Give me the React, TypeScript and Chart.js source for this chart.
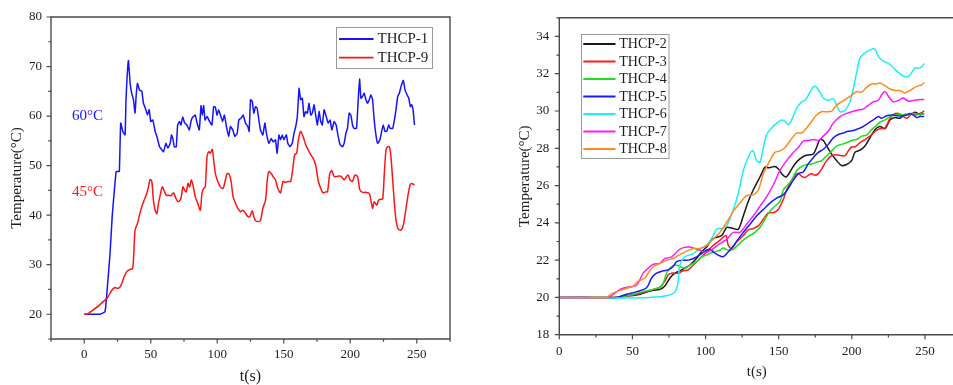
import React, { useEffect, useRef } from "react";
import { Chart, registerables } from "chart.js";

Chart.register(...registerables);

const SERIF = "'Liberation Serif', 'Times New Roman', Times, serif";
const TEXT = "#1e1e1e";
const AXIS = "#4a4a4a";

// ---------------- Left chart data ----------------
const t1 = [
  0, 12, 15.6, 17, 19.4, 21, 22, 23, 24, 25.6,
  26.4, 27.4, 29, 30.7, 31.4, 33.2, 34.5, 35.7, 37, 38.2,
  39, 40, 41.5, 43.3, 44.5, 46.3, 47.5, 48.8, 50, 51.6,
  53.3, 54.6, 56.6, 58.3, 59.6, 61.4, 62.9, 64.6, 65.6, 66.6,
  67.7, 69.2, 70.2, 71.7, 72.7, 74, 75.5, 77.2, 79, 80.5,
  81.7, 83.5, 84.8, 86.5, 87.8, 88.8, 89.8, 90.8, 92.3, 94.3,
  96, 97.3, 98.6, 99.8, 101, 102.4, 104, 105.4, 106.9, 108.6,
  109.9, 111.7, 113.2, 115, 116.2, 118, 119.5, 121.2, 123, 124,
  125, 126.3, 127.5, 128.8, 130, 131.3, 132.5, 134.3, 135.8, 137,
  138.8, 140.6, 142, 143.8, 145, 146.4, 147.6, 148.9, 150, 152,
  153, 154.7, 156.4, 157.7, 159, 160.2, 161.5, 162.7, 164, 165.2,
  166.5, 167.8, 169, 170.3, 171.5, 172.8, 174, 175.3, 176.6, 177.8,
  179, 180.3, 181.6, 183.4, 184.9, 186.1, 187.9, 189.4, 190.9, 192.4,
  194.2, 195.4, 196.7, 197.9, 199.2, 200.5, 201.7, 203, 204.7, 206,
  207, 208, 209.3, 210.5, 211.8, 213, 214.3, 215.5, 216.8, 218,
  219.3, 220.6, 222.3, 223.6, 224.8, 226.1, 227.4, 228.9, 230.1, 231.9,
  233.2, 234.4, 235.7, 236.9, 238.2, 239.9, 241.2, 242.7, 244, 245.2,
  246.2, 247.2, 248.3,
];
const temp1 = [
  20, 20, 20.5, 24.2, 32.3, 39.7, 43, 46.1, 48.8, 48.8,
  48.8, 58.6, 56.9, 56.2, 63.3, 71.2, 66.6, 64.6, 63.3, 60.6,
  64, 66.6, 65.3, 65, 62.6, 61.3, 60.2, 61.3, 58.9, 59.2,
  56.9, 55.9, 53.8, 53.2, 52.8, 54.5, 53.5, 54.5, 56.2, 55.5,
  53.8, 53.8, 58.2, 58.9, 58.2, 59.8, 58.6, 58.2, 57.2, 59.2,
  59.8, 60.2, 58.6, 57.2, 62.1, 60.2, 62.1, 59.2, 59.9, 58.9,
  58.2, 61.9, 61.8, 60.2, 61.3, 60.2, 58.9, 60.2, 57.9, 55.9,
  57.9, 57.2, 55.9, 56.5, 59.2, 59.6, 60.2, 58.6, 57.9, 56.9,
  63.3, 63, 60.6, 61.9, 61.6, 59.2, 57.2, 56.2, 58.6, 56.5,
  54.5, 55.5, 54.8, 55.2, 52.5, 56.2, 55.2, 56.2, 55.2, 56.2,
  54.5, 53.8, 54.5, 56.5, 57.9, 59.9, 65.6, 63.3, 63.6, 59.9,
  60.9, 60.6, 62.6, 60.2, 60.6, 62.3, 60.2, 58.2, 60.9, 58.9,
  58.2, 61.3, 60.2, 58.6, 59.2, 57.2, 58.9, 58.2, 55.9, 54.2,
  53.8, 54.5, 56.5, 57.5, 60.6, 60.2, 58.2, 57.5, 57.5, 63.3,
  67.5, 63.6, 64, 64.6, 63.3, 62.6, 63.3, 64.3, 63.3, 59.2,
  56.2, 54.5, 55.2, 56.9, 58.2, 56.9, 56.9, 58.2, 57.5, 57.5,
  59.2, 61.3, 64, 64.6, 66, 67.2, 65.3, 64.3, 63.6, 61.9,
  62.3, 61.3, 58.2,
];
const t9 = [
  0, 3, 17, 20.6, 23.1, 24.9, 26.9, 28.2, 29.9, 31.9,
  34, 36.2, 37, 38.2, 40, 41.5, 43.3, 45, 47, 48.3,
  49.5, 50.8, 52, 53.3, 54.6, 55.8, 57.1, 58.6, 60.1, 61.6,
  63.4, 65.1, 67.2, 68.9, 70.9, 72.7, 74.2, 75.5, 76.7, 78,
  79.2, 80.5, 81.7, 83.5, 85.3, 87.3, 88.5, 89.8, 91, 92.3,
  93.6, 94.8, 96.3, 97.3, 98.6, 100.4, 102.4, 104.4, 106.1, 107.4,
  108.9, 110.4, 111.9, 113.7, 115.4, 117.5, 119.2, 121.2, 123, 124.5,
  126.3, 127.5, 128.8, 130.5, 132.5, 134.3, 136.3, 137.6, 138.8, 140.6,
  142, 143.8, 145.6, 147.6, 149.4, 151.4, 153.2, 155.2, 157, 158.2,
  159.7, 161, 162.7, 164.5, 166.5, 168.3, 170.3, 172, 174, 175.8,
  177.8, 179.6, 181.6, 182.9, 184.6, 186.1, 187.9, 189.9, 191.6, 193.4,
  195.4, 197.2, 198.4, 199.9, 201.7, 203.5, 205.5, 207.2, 209.3, 211.8,
  214.3, 215.5, 216.8, 218, 219.9, 221.2, 222.6, 224.4, 225.6, 226.9,
  228.1, 229.4, 230.6, 231.9, 233.2, 234.4, 236.2, 238.2, 239.9, 241.4,
  243.2, 245, 246.2, 248.3,
];
const temp9 = [
  20, 20.1, 23.2, 24.8, 25.4, 25.2, 25.5, 26.2, 27.5, 28.6,
  29, 29.2, 30.9, 37, 38.3, 40, 41.7, 43, 44.4, 45.7,
  47.2, 46.8, 43, 41, 40.3, 42.4, 44, 45.7, 44.9, 44,
  44, 43.9, 44.5, 43.4, 42.7, 43.4, 45.7, 45, 44.7, 46.4,
  45.7, 47.1, 46.1, 43.7, 42.4, 41, 44.4, 45.4, 45.7, 51.8,
  52.8, 52.5, 53.3, 51.1, 48.4, 46.8, 45.7, 45.4, 47.1, 48.4,
  48.3, 46.8, 43.7, 42.4, 41.4, 40.7, 41, 40.4, 39.7, 39.7,
  40.9, 39.7, 38.9, 38.7, 38.9, 41.4, 43, 47.1, 48.8, 48.4,
  47.8, 47.1, 45.4, 44.5, 46.8, 46.6, 46.8, 46.8, 49.8, 52.2,
  52.5, 55.2, 56.9, 55.9, 54.2, 53.2, 52.2, 51.5, 50.1, 47.1,
  45.4, 44.5, 44.7, 44.7, 48.4, 49, 47.8, 47.8, 47.9, 47.8,
  47.1, 47.8, 48.1, 47.1, 46.8, 48.1, 47.8, 45.1, 44.6, 44.6,
  44.4, 43, 41.4, 42.7, 42, 43, 43.2, 43.3, 48.4, 53.2,
  53.8, 53.8, 51.8, 47.1, 42.4, 39, 37.1, 37, 38, 40.4,
  43.7, 46.1, 46.4, 46.1,
];
const leftXTicks = [0, 50, 100, 150, 200, 250];
const leftYTicks = [20, 30, 40, 50, 60, 70, 80];
const leftNames = ["THCP-1", "THCP-9"];
const leftNoteTexts = ["60°C", "45°C"];
const leftNoteX = [2.5, 2.5];
const leftNoteY = [60, 44.6];

// ---------------- Right chart data ----------------
const t2 = [
  0, 39.2, 43.8, 50.6, 55.2, 59.7, 64.3, 68.8, 72.2, 75.7,
  79.1, 82.5, 85.9, 89.3, 93.9, 97.3, 100.7, 104.1, 107.6, 111,
  114.4, 116.2, 119, 122.4, 125.8, 129.2, 132.6, 136.1, 138.3, 140.6,
  142.9, 145.2, 147.4, 149.7, 152, 155, 157.7, 161.1, 164.5, 168,
  171.4, 173.7, 175.9, 178.2, 180.5, 182.8, 186.2, 189.6, 193, 196.4,
  199.9, 202.1, 205.6, 209, 212.4, 215.8, 219.2, 222.7, 226.1, 229.5,
  232.9, 236.3, 239.7, 243.2, 246.6, 249.5,
];
const temp2 = [
  20, 20, 20.08, 20.1, 20.17, 20.29, 20.38, 20.43, 20.61, 21.04,
  21.3, 21.42, 21.57, 21.74, 22.1, 22.45, 22.7, 23.1, 23.23, 23.32,
  23.75, 23.75, 23.7, 23.66, 24.37, 25.15, 25.76, 26.29, 26.64, 26.99,
  26.95, 26.99, 27.02, 26.9, 26.64, 26.46, 26.73, 27.16, 27.43, 27.6,
  27.65, 27.69, 28.04, 28.47, 28.42, 28.12, 27.69, 27.34, 27.08, 27.13,
  27.34, 27.78, 27.9, 28.12, 28.56, 29, 29.17, 29.05, 29.52, 29.65,
  29.61, 29.82, 29.79, 29.93, 29.82, 29.87,
];
const t3 = [
  0, 39.2, 43.8, 50.6, 57.4, 64.3, 68.8, 72.2, 74.5, 76.8,
  81.4, 84.8, 88.2, 91.6, 96.2, 100.7, 105.3, 109.8, 113.9, 115.5,
  117.8, 121.2, 125.8, 129.2, 132.6, 136.1, 139.5, 142.9, 146.3, 149.7,
  153.1, 155.4, 157.7, 161.1, 163.4, 165.7, 168, 170.2, 172.5, 174.8,
  177.1, 179.4, 182.8, 186.2, 189.6, 193, 195.3, 197.6, 199.9, 202.1,
  205.6, 209, 212.4, 215.8, 219.2, 222.7, 226.1, 228.4, 231.8, 235.2,
  237.9, 240.9, 244.3, 246.6, 249.5,
];
const temp3 = [
  20, 20, 20.03, 20.13, 20.26, 20.43, 20.55, 20.87, 21.22, 21.3,
  21.3, 21.43, 21.48, 21.74, 22.09, 22.44, 22.8, 23.06, 23.32, 22.8,
  22.62, 22.97, 23.32, 23.63, 23.7, 23.84, 24.19, 24.54, 24.54, 24.72,
  25.24, 25.76, 26.11, 26.55, 26.64, 26.5, 26.43, 26.55, 26.64, 26.55,
  26.64, 26.9, 27.34, 27.6, 27.65, 27.6, 27.6, 27.86, 28.07, 28.07,
  28.3, 28.47, 28.65, 28.91, 29.05, 29.09, 29.61, 29.82, 29.87, 29.7,
  29.61, 29.87, 29.79, 29.87, 30,
];
const t4 = [
  0, 39.2, 43.8, 50.6, 57.4, 64.3, 70, 73.4, 75.7, 79.1,
  82.5, 85.9, 89.3, 93.9, 97.3, 100.7, 105.3, 109.8, 112.1, 115.5,
  119, 122.4, 126.9, 130.4, 133.8, 137.2, 140.6, 144, 147.4, 150.9,
  153.1, 155.4, 158.8, 162.3, 165.7, 169.1, 172.5, 175.9, 179.4, 182.8,
  186.2, 189.6, 193, 196.4, 199.9, 203.3, 206.7, 210.1, 213.5, 217,
  219.2, 222.7, 226.1, 229.5, 232.9, 236.3, 239.7, 243.2, 246.6, 249.5,
];
const temp4 = [
  20, 20, 20.03, 20.17, 20.31, 20.43, 20.61, 21.31, 21.57, 21.74,
  21.66, 21.57, 21.74, 21.92, 22.18, 22.27, 22.44, 22.53, 22.65, 22.53,
  22.58, 22.83, 23.14, 23.32, 23.49, 23.75, 24.19, 24.63, 24.89, 25.15,
  25.76, 25.97, 26.29, 26.81, 27.02, 27.13, 27.16, 27.25, 27.34, 27.6,
  27.86, 28.12, 28.21, 28.3, 28.42, 28.47, 28.65, 28.7, 29, 29.23,
  29.4, 29.52, 29.7, 29.79, 29.82, 29.79, 29.84, 29.87, 29.79, 29.87,
];
const t5 = [
  0, 39.2, 46, 52.9, 59.7, 63.1, 66.5, 71.1, 74.5, 77.9,
  80.2, 83.6, 88.2, 92.8, 97.3, 100.7, 103, 105.3, 108.7, 112.1,
  115.5, 119, 122.4, 125.8, 130.4, 134.9, 139.5, 144, 148.6, 153.1,
  156.6, 160, 163.4, 166.8, 170.2, 173.7, 177.1, 180.5, 183.9, 187.3,
  190.7, 194.2, 197.6, 201, 204.4, 207.8, 211.3, 214.7, 218.1, 220.4,
  223.8, 227.2, 230.6, 234, 237.5, 239.7, 242, 244.3, 246.6, 249.5,
];
const temp5 = [
  20, 20, 20.17, 20.31, 20.52, 21.04, 21.3, 21.43, 21.48, 21.66,
  21.92, 22, 22, 22.13, 22.35, 22.53, 22.58, 22.44, 22.27, 22.18,
  22.44, 22.76, 23.14, 23.49, 23.93, 24.37, 24.72, 25.06, 25.33, 25.5,
  25.85, 26.29, 26.64, 26.73, 27.16, 27.51, 27.78, 27.95, 28.21, 28.56,
  28.74, 28.82, 28.91, 28.95, 29.05, 29.17, 29.35, 29.52, 29.7, 29.61,
  29.75, 29.79, 29.75, 29.73, 29.79, 29.87, 29.79, 29.65, 29.7, 29.7,
];
const t6 = [
  0, 62, 79.1, 82.5, 85.9, 91.6, 96.2, 100.7, 105.3, 107.6,
  111, 114.4, 119, 122.4, 125.8, 129.2, 130.8, 132.6, 134.9, 137.2,
  139, 141.8, 145.2, 148.6, 152, 154.3, 156.6, 158.8, 162.3, 165.7,
  168, 171.4, 173.7, 175.9, 178.2, 180.5, 183.9, 187.3, 189.6, 191.9,
  194.2, 196.4, 198.7, 201, 203.3, 205.6, 209, 212.4, 215.8, 218.1,
  221.5, 224.9, 228.4, 231.8, 235.2, 238.6, 240.9, 243.2, 245.4, 247.7,
  249.5,
];
const temp6 = [
  20, 20, 20.29, 21.74, 22.18, 22.35, 22.62, 22.79, 23.32, 23.67,
  23.7, 23.84, 24.72, 25.59, 26.81, 27.51, 27.78, 27.86, 27.34, 27.25,
  27.86, 28.74, 29.09, 29.35, 29.52, 29.44, 29.26, 29.52, 30.14, 30.49,
  30.57, 31.01, 31.31, 31.27, 31.01, 30.7, 30.57, 30.66, 30.31, 29.96,
  29.99, 30.14, 30.49, 31.18, 32.06, 32.85, 33.11, 33.28, 33.32, 32.93,
  32.67, 32.55, 32.32, 32.06, 31.88, 31.85, 32.06, 32.32, 32.29, 32.36,
  32.55,
];
const t7 = [
  0, 33.5, 36.9, 41.5, 46, 49.5, 52.9, 57.4, 60.8, 64.3,
  68.8, 72.2, 76.8, 81.4, 84.8, 89.3, 92.8, 96.2, 100.7, 105.3,
  109.8, 114.4, 119, 123.5, 128.1, 132.6, 137.2, 141.8, 146.3, 150.9,
  155.4, 160, 163.4, 166.8, 170.2, 173.7, 177.1, 180.5, 183.9, 187.3,
  191.9, 196.4, 201, 204.4, 207.8, 211.3, 214.7, 218.1, 220.4, 222.7,
  224.9, 228.4, 231.8, 235.2, 238.6, 242, 245.4, 249.5,
];
const temp7 = [
  20, 20, 20.17, 20.43, 20.55, 20.57, 20.66, 21.3, 21.57, 21.78,
  21.83, 22.09, 22.18, 22.53, 22.67, 22.7, 22.62, 22.53, 22.41, 22.62,
  22.88, 23.11, 23.49, 23.49, 23.93, 24.37, 24.89, 25.41, 26.03, 26.81,
  27.34, 27.78, 28.04, 28.39, 28.42, 28.47, 28.42, 28.65, 28.91, 29.35,
  29.7, 29.87, 29.99, 30.05, 30.1, 30.31, 30.49, 30.57, 30.87, 31.04,
  30.8, 30.49, 30.57, 30.7, 30.52, 30.57, 30.61, 30.61,
];
const t8 = [
  0, 31.9, 35.8, 41.5, 47.2, 50.6, 54, 58.6, 60.8, 64.3,
  68.8, 73.4, 77.9, 82.5, 87.1, 91.6, 96.2, 100.7, 105.3, 109.8,
  114.4, 119, 123.5, 128.1, 132.6, 136.1, 139.5, 144, 147.4, 150.9,
  154.3, 157.7, 162.3, 165.7, 169.1, 172.5, 175.9, 179.4, 182.8, 186.2,
  189.6, 193, 196.4, 199.9, 203.3, 206.7, 210.1, 213.5, 217, 219.2,
  222.7, 226.1, 229.5, 232.9, 236.3, 239.7, 242, 245.4, 247.7, 249.5,
];
const temp8 = [
  20, 20, 20.2, 20.38, 20.52, 20.61, 20.87, 21.04, 21.31, 21.66,
  21.83, 22, 22.09, 22.3, 22.48, 22.62, 22.62, 22.79, 23.14, 23.49,
  24.02, 24.63, 25.06, 25.47, 25.5, 25.76, 26.64, 27.34, 27.78, 27.86,
  28.04, 28.39, 28.82, 28.82, 29.09, 29.44, 29.79, 29.96, 29.96, 29.99,
  30.31, 30.49, 30.66, 30.84, 31.04, 31.01, 31.27, 31.45, 31.45, 31.5,
  31.36, 31.18, 31.1, 31.1, 30.97, 31.1, 31.22, 31.36, 31.39, 31.53,
];
const rightXTicks = [0, 50, 100, 150, 200, 250];
const rightYTicks = [18, 20, 22, 24, 26, 28, 30, 32, 34];
const rightNames = ["THCP-2", "THCP-3", "THCP-4", "THCP-5", "THCP-6", "THCP-7", "THCP-8"];
const rightColors = ["#1a1a1a", "#ff1a1a", "#1fdc1f", "#1a1aff", "#1af0f8", "#ff1aff", "#ff8a1a"];

// ---------------- helpers / plugins ----------------
const pts = (t: number[], v: number[]) => t.map((x, i) => ({ x, y: v[i] }));

const axisDeco = {
  id: "axisDeco",
  afterDraw(chart: any, _a: any, o: any) {
    const { ctx, chartArea: a } = chart;
    const xs = chart.scales.x;
    const ys = chart.scales.y;
    ctx.save();
    ctx.strokeStyle = AXIS;
    ctx.lineWidth = 1.4;
    ctx.beginPath();
    ctx.rect(a.left, a.top, a.right - a.left, a.bottom - a.top);
    ctx.stroke();
    ctx.lineWidth = 1.2;
    ctx.beginPath();
    const isMajor = (v: number, step: number) => Math.abs(v / step - Math.round(v / step)) < 1e-6;
    for (let v = xs.min; v <= xs.max + 1e-6; v += o.xMinor) {
      const len = isMajor(v, o.xMajor) ? 4.5 : 2.8;
      const px = xs.getPixelForValue(v);
      ctx.moveTo(px, a.bottom);
      ctx.lineTo(px, a.bottom + len);
    }
    for (let v = ys.min; v <= ys.max + 1e-6; v += o.yMinor) {
      const len = isMajor(v, o.yMajor) ? 4.5 : 2.8;
      const py = ys.getPixelForValue(v);
      ctx.moveTo(a.left, py);
      ctx.lineTo(a.left - len, py);
    }
    ctx.stroke();
    ctx.restore();
  },
};

const boxLegend = {
  id: "boxLegend",
  afterDraw(chart: any, _a: any, o: any) {
    const ctx = chart.ctx;
    ctx.save();
    ctx.fillStyle = "#ffffff";
    ctx.fillRect(o.x, o.y, o.w, o.h);
    ctx.strokeStyle = "#9a9a9a";
    ctx.lineWidth = 1;
    ctx.strokeRect(o.x, o.y, o.w, o.h);
    ctx.font = `${o.size}px ${SERIF}`;
    ctx.textBaseline = "middle";
    ctx.textAlign = "left";
    chart.data.datasets.forEach((ds: any, i: number) => {
      const y = o.y + o.first + i * o.gap;
      ctx.strokeStyle = ds.borderColor;
      ctx.lineWidth = 1.8;
      ctx.beginPath();
      ctx.moveTo(o.x + o.lineX0, y);
      ctx.lineTo(o.x + o.lineX1, y);
      ctx.stroke();
      ctx.fillStyle = TEXT;
      ctx.fillText(ds.label, o.x + o.textX, y + 0.5);
    });
    ctx.restore();
  },
};

const notes = {
  id: "notes",
  afterDatasetsDraw(chart: any, _a: any, o: any) {
    if (!o || !o.items) return;
    const ctx = chart.ctx;
    const xs = chart.scales.x;
    const ys = chart.scales.y;
    ctx.save();
    ctx.font = `${o.size}px ${SERIF}`;
    ctx.textAlign = "center";
    ctx.textBaseline = "middle";
    o.items.forEach((it: any) => {
      ctx.fillStyle = it.color;
      ctx.fillText(it.text, xs.getPixelForValue(it.x), ys.getPixelForValue(it.y));
    });
    ctx.restore();
  },
};

const tickFont = { family: SERIF, size: 13 };

function leftConfig(): any {
  return {
    type: "line",
    data: {
      datasets: [
        { label: leftNames[0], data: pts(t1, temp1), borderColor: "#1414ff", borderWidth: 1.5, pointRadius: 0, tension: 0.1, order: 2 },
        { label: leftNames[1], data: pts(t9, temp9), borderColor: "#ff1414", borderWidth: 1.5, pointRadius: 0, tension: 0.25, order: 1 },
      ],
    },
    plugins: [axisDeco, boxLegend, notes],
    options: {
      responsive: false,
      animation: false,
      events: [],
      layout: { padding: { top: 17, right: 30, left: 0, bottom: 0 } },
      plugins: {
        legend: { display: false },
        tooltip: { enabled: false },
        axisDeco: { xMinor: 25, xMajor: 50, yMinor: 5, yMajor: 10 },
        boxLegend: { x: 336.5, y: 27.5, w: 96, h: 41, first: 11.5, gap: 18.7, lineX0: 2.5, lineX1: 37, textX: 41, size: 15 },
        notes: {
          size: 15,
          items: leftNoteTexts.map((text, i) => ({ text, x: leftNoteX[i], y: leftNoteY[i], color: i === 0 ? "#1414ff" : "#ff1414" })),
        },
      },
      scales: {
        x: {
          type: "linear",
          min: -25,
          max: 275,
          grid: { display: false, drawTicks: false },
          border: { display: false },
          afterBuildTicks: (s: any) => { s.ticks = leftXTicks.map((v) => ({ value: v })); },
          afterFit: (s: any) => { s.height = 56; },
          ticks: { font: tickFont, color: TEXT, padding: 7.5, maxRotation: 0, autoSkip: false },
          title: { display: true, text: "t(s)", font: { family: SERIF, size: 16 }, color: TEXT, padding: { top: 0, bottom: 9 } },
        },
        y: {
          type: "linear",
          min: 15,
          max: 80,
          grid: { display: false, drawTicks: false },
          border: { display: false },
          afterBuildTicks: (s: any) => { s.ticks = leftYTicks.map((v) => ({ value: v })); },
          afterFit: (s: any) => { s.width = 51; },
          ticks: { font: tickFont, color: TEXT, padding: 9, autoSkip: false },
          title: { display: true, text: "Temperature(°C)", font: { family: SERIF, size: 15 }, color: TEXT, padding: { top: 8, bottom: 0 } },
        },
      },
    },
  };
}

function rightConfig(): any {
  const ts = [t2, t3, t4, t5, t6, t7, t8];
  const vs = [temp2, temp3, temp4, temp5, temp6, temp7, temp8];
  return {
    type: "line",
    data: {
      datasets: rightNames.map((name, i) => ({
        label: name,
        data: pts(ts[i], vs[i]),
        borderColor: rightColors[i],
        borderWidth: 1.5,
        pointRadius: 0,
        tension: 0.3,
        order: 7 - i,
      })),
    },
    plugins: [axisDeco, boxLegend],
    options: {
      responsive: false,
      animation: false,
      events: [],
      layout: { padding: { top: 11, right: 15.8, left: 0, bottom: 0 } },
      plugins: {
        legend: { display: false },
        tooltip: { enabled: false },
        axisDeco: { xMinor: 25, xMajor: 50, yMinor: 1, yMajor: 2 },
        boxLegend: { x: 101.5, y: 34.5, w: 87.5, h: 124, first: 9.5, gap: 17.5, lineX0: 1.8, lineX1: 34, textX: 37.8, size: 14 },
      },
      scales: {
        x: {
          type: "linear",
          min: 0,
          max: 270,
          grid: { display: false, drawTicks: false },
          border: { display: false },
          afterBuildTicks: (s: any) => { s.ticks = rightXTicks.map((v) => ({ value: v })); },
          afterFit: (s: any) => { s.height = 60.3; },
          ticks: { font: tickFont, color: TEXT, padding: 9, maxRotation: 0, autoSkip: false },
          title: { display: true, text: "t(s)", font: { family: SERIF, size: 15 }, color: TEXT, padding: { top: 0, bottom: 14 } },
        },
        y: {
          type: "linear",
          min: 18,
          max: 35,
          grid: { display: false, drawTicks: false },
          border: { display: false },
          afterBuildTicks: (s: any) => { s.ticks = rightYTicks.map((v) => ({ value: v })); },
          afterFit: (s: any) => { s.width = 79.3; },
          ticks: { font: tickFont, color: TEXT, padding: 10, autoSkip: false },
          title: { display: true, text: "Temperature(°C)", font: { family: SERIF, size: 15 }, color: TEXT, padding: { top: 36.5, bottom: 0 } },
        },
      },
    },
  };
}

function ChartCanvas(props: { make: () => any; left: number; width: number; height: number }) {
  const ref = useRef<HTMLCanvasElement>(null);
  useEffect(() => {
    const chart = new Chart(ref.current as HTMLCanvasElement, props.make());
    return () => chart.destroy();
  }, []);
  return (
    <canvas
      ref={ref}
      width={props.width}
      height={props.height}
      style={{ position: "absolute", left: props.left, top: 0, width: props.width, height: props.height }}
    />
  );
}

export default function App() {
  return (
    <div
      style={{
        position: "fixed",
        left: 0,
        top: 0,
        width: 953,
        height: 385,
        overflow: "hidden",
        background: "#ffffff",
      }}
    >
      <ChartCanvas make={leftConfig} left={0} width={480} height={395} />
      <ChartCanvas make={rightConfig} left={480} width={490} height={395} />
    </div>
  );
}
